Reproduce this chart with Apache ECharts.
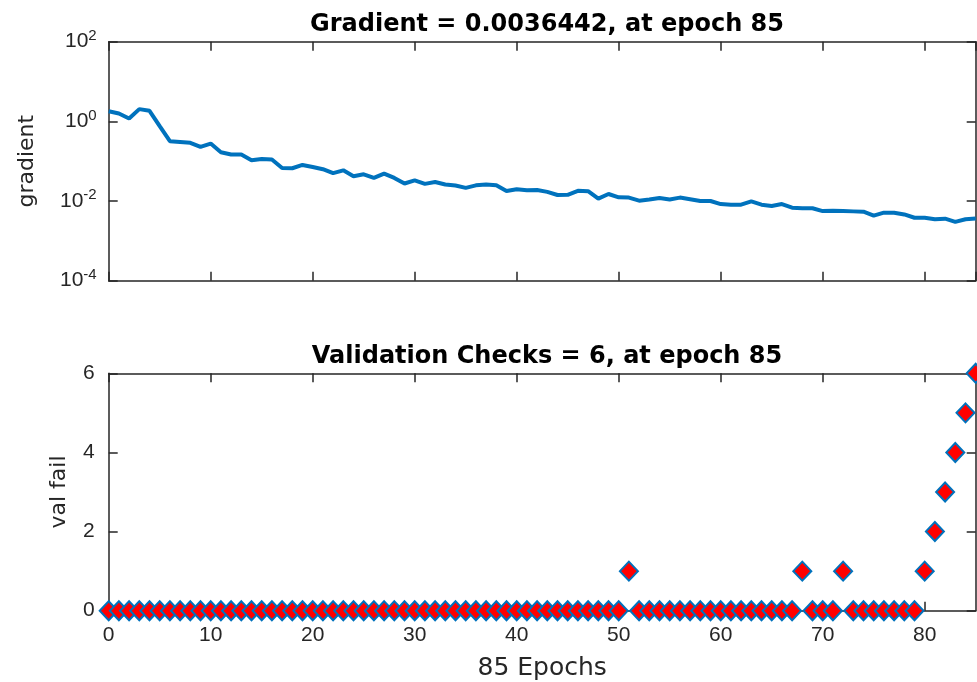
<!DOCTYPE html>
<html>
<head>
<meta charset="utf-8">
<script src="https://cdn.jsdelivr.net/npm/echarts@6/dist/echarts.min.js"></script>
<style>
  html, body { margin: 0; padding: 0; background: #fff; }
  #main { width: 977px; height: 682px; }
</style>
</head>
<body>
<div id="main"></div>
<script>
// values, one per epoch (0..85)
const gradient = [
  1.8, 1.58, 1.18, 2.03, 1.84, 0.76, 0.318, 0.305, 0.29, 0.229,
  0.277, 0.168, 0.147, 0.147, 0.106, 0.114, 0.11, 0.0676, 0.0665, 0.0805,
  0.0716, 0.063, 0.05, 0.059, 0.042, 0.047, 0.038, 0.049, 0.038, 0.0275,
  0.033, 0.027, 0.030, 0.026, 0.0245, 0.0214, 0.0248, 0.026, 0.0248, 0.0178,
  0.0197, 0.0186, 0.019, 0.017, 0.0142, 0.0143, 0.018, 0.0177, 0.0115, 0.015,
  0.0124, 0.0122, 0.0102, 0.0109, 0.0119, 0.0109, 0.0122, 0.0111, 0.01, 0.01,
  0.0084, 0.0081, 0.0081, 0.0098, 0.0081, 0.0075, 0.0084, 0.0068, 0.0066, 0.0066,
  0.0056, 0.0057, 0.0056, 0.0055, 0.0054, 0.0043, 0.0051, 0.0051, 0.0046, 0.0038,
  0.0038, 0.0035, 0.0036, 0.003, 0.0035, 0.0036442
]
const valFail = [
  0, 0, 0, 0, 0, 0, 0, 0, 0, 0,
  0, 0, 0, 0, 0, 0, 0, 0, 0, 0,
  0, 0, 0, 0, 0, 0, 0, 0, 0, 0,
  0, 0, 0, 0, 0, 0, 0, 0, 0, 0,
  0, 0, 0, 0, 0, 0, 0, 0, 0, 0,
  0, 1, 0, 0, 0, 0, 0, 0, 0, 0,
  0, 0, 0, 0, 0, 0, 0, 0, 1, 0,
  0, 0, 1, 0, 0, 0, 0, 0, 0, 0,
  1, 2, 3, 4, 5, 6
]
const gradTitle = 'Gradient = 0.0036442, at epoch 85'
const valTitle = 'Validation Checks = 6, at epoch 85'
const xName = '85 Epochs'

const FONT = '"Liberation Sans", Arial, sans-serif'
const WIDE = '"DejaVu Sans", sans-serif'
const INK = '#262626'
const BLUE = '#0072BD'

const line = { show: true, onZero: false, lineStyle: { color: INK, width: 1.5 } }
const tick = { show: true, inside: true, length: 9, lineStyle: { color: INK, width: 1.5 } }
const label = { color: INK, fontSize: 21, fontFamily: FONT }
const titleStyle = { fontFamily: WIDE, fontWeight: 'bold', fontSize: 24, color: '#000' }

function xAxis(grid, pos, showLabel) {
  return {
    type: 'value', gridIndex: grid, position: pos, min: 0, max: 85, interval: 10,
    axisLine: line, axisTick: tick, splitLine: { show: false },
    axisLabel: Object.assign({ show: showLabel, margin: 14, showMaxLabel: false }, label)
  }
}

const chart = echarts.init(document.getElementById('main'))
chart.setOption({
  backgroundColor: '#fff',
  animation: false,
  title: [
    { text: gradTitle, left: 542, top: 8, textAlign: 'center', textStyle: titleStyle },
    { text: valTitle, left: 542, top: 340, textAlign: 'center', textStyle: titleStyle }
  ],
  grid: [
    { left: 108.7, right: 1.3, top: 41.7, height: 239 },
    { left: 108.7, right: 1.3, top: 373.3, height: 237.4 }
  ],
  xAxis: [
    xAxis(0, 'bottom', false),
    xAxis(0, 'top', false),
    Object.assign(xAxis(1, 'bottom', true), {
      name: xName, nameLocation: 'middle', nameGap: 45,
      nameTextStyle: { color: INK, fontSize: 25, fontFamily: WIDE }
    }),
    xAxis(1, 'top', false)
  ],
  yAxis: [
    {
      type: 'log', logBase: 100, gridIndex: 0, position: 'left', min: 1e-4, max: 1e2,
      name: 'gradient', nameLocation: 'middle', nameGap: 70,
      nameTextStyle: { color: INK, fontSize: 22, fontFamily: WIDE },
      axisLine: line, axisTick: tick, splitLine: { show: false }, minorTick: { show: false },
      axisLabel: {
        margin: 12,
        formatter: v => '{b|10}{s|' + Math.round(Math.log10(v)) + '}',
        rich: {
          b: { color: INK, fontSize: 21, fontFamily: FONT },
          s: { color: INK, fontSize: 15, fontFamily: FONT, padding: [0, 0, 12, 0] }
        }
      }
    },
    {
      type: 'log', logBase: 100, gridIndex: 0, position: 'right', min: 1e-4, max: 1e2,
      axisLine: line, axisTick: tick, splitLine: { show: false }, axisLabel: { show: false }
    },
    {
      type: 'value', gridIndex: 1, position: 'left', min: 0, max: 6, interval: 2,
      name: 'val fail', nameLocation: 'middle', nameGap: 38,
      nameTextStyle: { color: INK, fontSize: 22, fontFamily: WIDE },
      axisLine: line, axisTick: tick, splitLine: { show: false },
      axisLabel: Object.assign({ margin: 14 }, label)
    },
    {
      type: 'value', gridIndex: 1, position: 'right', min: 0, max: 6, interval: 2,
      axisLine: line, axisTick: tick, splitLine: { show: false }, axisLabel: { show: false }
    }
  ],
  series: [
    {
      type: 'line', xAxisIndex: 0, yAxisIndex: 0,
      data: gradient.map((v, i) => [i, v]),
      showSymbol: false, lineStyle: { color: BLUE, width: 4 }
    },
    {
      type: 'scatter', xAxisIndex: 2, yAxisIndex: 2, clip: false,
      data: valFail.map((v, i) => [i, v]),
      symbol: 'diamond', symbolSize: [18, 19],
      itemStyle: { color: '#FF0000', borderColor: BLUE, borderWidth: 2, opacity: 1 }
    }
  ]
})
</script>
</body>
</html>
